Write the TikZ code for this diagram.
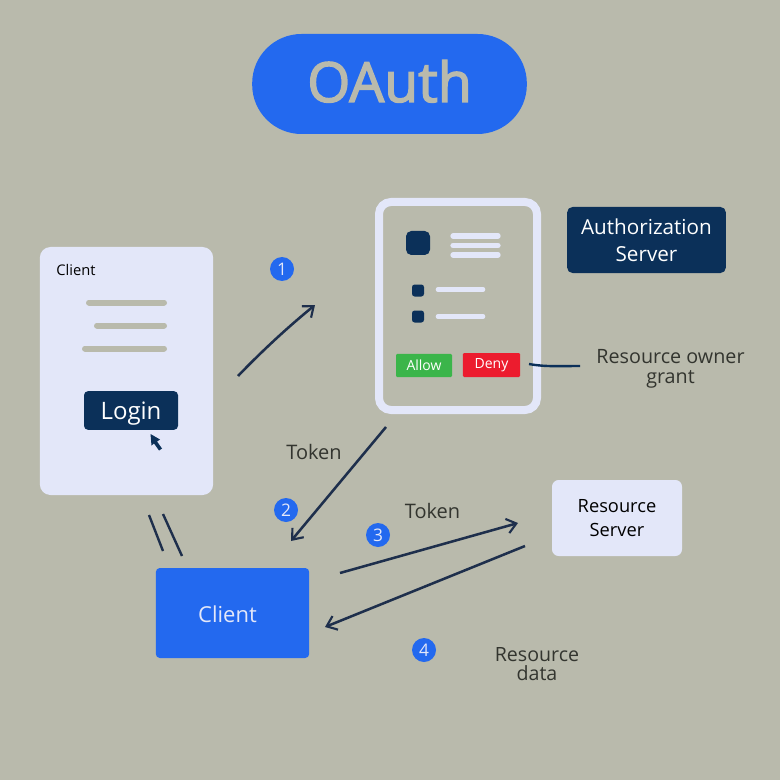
\documentclass[tikz,border=0pt]{standalone}
\usepackage{fontspec}
\setmainfont{Open Sans}
\newfontfamily\heavyfont[FakeBold=2.5]{Open Sans}
\usetikzlibrary{arrows.meta}

\definecolor{bggrey}{HTML}{B9BAAC}
\definecolor{oblue}{HTML}{2369EF}
\definecolor{navy}{HTML}{0B3059}
\definecolor{pale}{HTML}{E3E7F9}
\definecolor{inkline}{HTML}{1E2F4C}
\definecolor{allowgreen}{HTML}{3BB54A}
\definecolor{denyred}{HTML}{EC1C2E}
\definecolor{labelgrey}{HTML}{33352F}

\tikzset{
	box/.style={rounded corners=#1,inner sep=0pt,align=center},
	box/.default=5pt,
	badge/.style={circle,fill=oblue,text=pale,inner sep=0pt,minimum size=18pt,font=\fontsize{13pt}{13pt}\selectfont},
	flow/.style={draw=inkline,line width=1.9pt,-{Straight Barb[length=7pt,width=11pt,line width=1.6pt]}},
	stroke/.style={draw=inkline,line width=1.8pt},
	bar/.style={line width=4.5pt,line cap=round},
	lbl/.style={text=labelgrey,align=center,inner sep=0pt}
}

\begin{document}
\begin{tikzpicture}[x=0.75pt,y=-0.75pt]

\fill[bggrey] (0,0) rectangle (780,780);
\useasboundingbox (0,0) rectangle (780,780);

% title
\node (title) at (389.5,84) [box=37pt,fill=oblue,text=bggrey,minimum width=206pt,minimum height=75pt,
	font=\heavyfont\fontsize{41.5pt}{41.5pt}\selectfont] {\raisebox{-13.5pt}[0pt][0pt]{OAuth}};

% client card
\node (card) at (126.5,371) [box=8pt,fill=pale,minimum width=130pt,minimum height=186pt] {};
\node (cardname) at (76,270.5) [inner sep=0pt,text=black,font=\fontsize{11pt}{11pt}\selectfont] {Client};
\draw[bar,draw=bggrey] (89,302.5)--(164,302.5);
\draw[bar,draw=bggrey] (97,325.5)--(164,325.5);
\draw[bar,draw=bggrey] (85,348.5)--(164,348.5);
\node (login) at (131,410.5) [box=3pt,fill=navy,text=white,minimum width=70.5pt,minimum height=29pt,
	font=\fontsize{18pt}{18pt}\selectfont] {\raisebox{-6.5pt}[0pt][0pt]{Login}};
\fill[navy] (150.5,434) -- (160,439.5) -- (157,441.5) -- (162,448.5) -- (159,450.5) -- (154,443.5) -- (151.5,445.5) -- cycle;

% authorization page
\node (page) at (458,306) [box=9pt,draw=pale,line width=6pt,minimum width=118.5pt,minimum height=156pt] {};
\node (logo) at (418,243) [box=4pt,fill=navy,minimum size=18pt] {};
\draw[bar,draw=pale,line width=4pt] (453,236)--(498,236);
\draw[bar,draw=pale,line width=4pt] (453,245.5)--(498,245.5);
\draw[bar,draw=pale,line width=4pt] (453,255)--(498,255);
\node (itema) at (418,290.5) [box=2pt,fill=navy,minimum size=9pt] {};
\node (itemb) at (418,316.5) [box=2pt,fill=navy,minimum size=9pt] {};
\draw[bar,draw=pale,line width=3.5pt] (438,289.5)--(483,289.5);
\draw[bar,draw=pale,line width=3.5pt] (438,316.5)--(483,316.5);
\node (allow) at (424,365.5) [box=1pt,fill=allowgreen,text=white,minimum width=42pt,minimum height=17.5pt,
	font=\fontsize{10.5pt}{10.5pt}\selectfont] {Allow};
\node (deny) at (491.5,365) [box=1pt,fill=denyred,text=white,minimum width=43pt,minimum height=18pt,
	font=\fontsize{10.5pt}{10.5pt}\selectfont] {Deny};

\node (authserver) at (646.5,240) [box=4pt,fill=navy,text=white,minimum width=119pt,minimum height=49.5pt,
	font=\fontsize{15.5pt}{20pt}\selectfont] {Authorization\\Server};

\node (grant) at (670.5,369) [lbl,font=\fontsize{14.8pt}{15pt}\selectfont] {Resource owner\\grant};

% lower boxes
\node (client) at (232.5,613) [box=3pt,fill=oblue,text=pale,minimum width=115pt,minimum height=67.5pt,
	font=\fontsize{16.5pt}{16.5pt}\selectfont] {\raisebox{-7.4pt}[0pt][0pt]{Client\kern7.5pt}};
\node (resserver) at (617,518) [box=5pt,fill=pale,text=black,minimum width=97.5pt,minimum height=57pt,
	font=\fontsize{13.7pt}{18.5pt}\selectfont] {Resource\\Server};

% free ends of the connectors
\coordinate (Aa) at (238,376);
\coordinate (Ab) at (315,305);
\coordinate (Ba) at (386,427);
\coordinate (Bb) at (291,541);
\coordinate (Ca) at (340,573);
\coordinate (Cb) at (518,523);
\coordinate (Da) at (525,546);
\coordinate (Db) at (325,627);
\coordinate (Ea) at (149,515);
\coordinate (Eb) at (163,551);
\coordinate (Fa) at (163,514);
\coordinate (Fb) at (182,556);
\coordinate (Ga) at (529,364);
\coordinate (Gb) at (580,366);

\draw[flow] (Aa) .. controls (262,351) and (288,327) .. (Ab);
\draw[flow] (Ba)--(Bb);
\draw[flow] (Ca)--(Cb);
\draw[flow] (Da)--(Db);
\draw[stroke] (Ea)--(Eb);
\draw[stroke] (Fa)--(Fb);
\draw[stroke,draw=navy] (Ga) .. controls (545,367) and (560,366) .. (Gb);

\node (one) at (282,269) [badge] {1};
\node (two) at (286,510) [badge] {2};
\node (three) at (378,535) [badge] {3};
\node (four) at (424,650) [badge] {4};

\node (tokena) at (314,452) [lbl,font=\fontsize{15pt}{15pt}\selectfont] {Token};
\node (tokenb) at (432.5,511) [lbl,font=\fontsize{15pt}{15pt}\selectfont] {Token};
\node (resdata) at (537,664) [lbl,font=\fontsize{14.7pt}{14pt}\selectfont] {Resource\\data};

\end{tikzpicture}
\end{document}
